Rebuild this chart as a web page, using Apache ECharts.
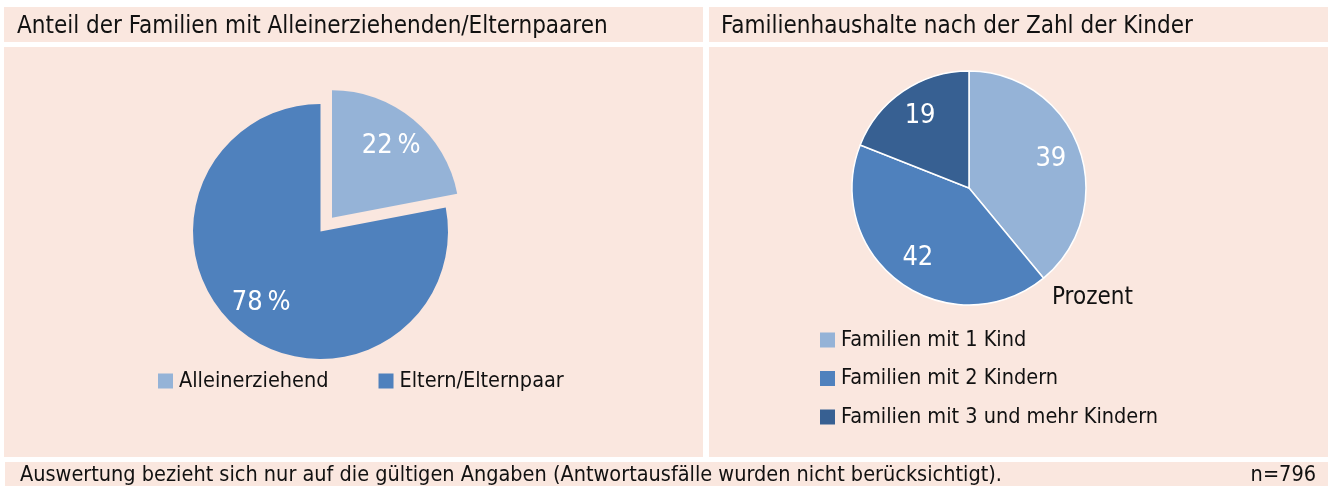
<!DOCTYPE html>
<html>
<head>
<meta charset="utf-8">
<script src="https://cdn.jsdelivr.net/npm/echarts@6/dist/echarts.min.js"></script>
<style>
html,body{margin:0;padding:0;background:#ffffff;}
#chart{width:1328px;height:486px;}
</style>
</head>
<body>
<div id="chart"></div>
<script>
// ---- data ----
const leftTitle = 'Anteil der Familien mit Alleinerziehenden/Elternpaaren';
const rightTitle = 'Familienhaushalte nach der Zahl der Kinder';
const leftCategories = ['Alleinerziehend', 'Eltern/Elternpaar'];
const leftValues = [22, 78];
const rightCategories = ['Familien mit 1 Kind', 'Familien mit 2 Kindern', 'Familien mit 3 und mehr Kindern'];
const rightValues = [39, 42, 19];
const rightUnit = 'Prozent';
const footnote = 'Auswertung bezieht sich nur auf die gültigen Angaben (Antwortausfälle wurden nicht berücksichtigt).';
const sampleSize = 'n=796';

// ---- style ----
const FONT = '"Liberation Sans Narrow", "DejaVu Sans Condensed", "Noto Sans", sans-serif';
const PINK = '#fae7df';
const leftColors = ['#95b3d7', '#4f81bd'];
const rightColors = ['#95b3d7', '#4f81bd', '#376092'];

const chart = echarts.init(document.getElementById('chart'), null, {renderer: 'canvas'});

const leftData = leftCategories.map((n, i) => ({
  name: n, value: leftValues[i], selected: i === 0,
  itemStyle: {color: leftColors[i]}
}));
const rightData = rightCategories.map((n, i) => ({
  name: n, value: rightValues[i], itemStyle: {color: rightColors[i]}
}));
const transparentCopy = (arr, withSel) => arr.map((d, i) => ({
  name: d.name, value: d.value, selected: withSel ? d.selected : false,
  itemStyle: {color: 'rgba(0,0,0,0)', borderWidth: 0}
}));

const legendBase = {
  itemWidth: 15, itemHeight: 15, icon: 'rect', selectedMode: false, padding: 0,
  itemStyle: {borderWidth: 0},
  textStyle: {fontSize: 21.5, color: '#111111', fontFamily: FONT, padding: [0, 0, 0, 1]}
};

const option = {
  backgroundColor: '#ffffff',
  animation: false,
  textStyle: {fontFamily: FONT},
  graphic: [
    // panel backgrounds
    {type: 'rect', z: -10, shape: {x: 4, y: 7, width: 699, height: 35}, style: {fill: PINK}},
    {type: 'rect', z: -10, shape: {x: 709, y: 7, width: 619, height: 35}, style: {fill: PINK}},
    {type: 'rect', z: -10, shape: {x: 4, y: 47, width: 699, height: 410}, style: {fill: PINK}},
    {type: 'rect', z: -10, shape: {x: 709, y: 47, width: 619, height: 410}, style: {fill: PINK}},
    {type: 'rect', z: -10, shape: {x: 5, y: 462, width: 1323, height: 24}, style: {fill: PINK}},
    // titles
    {type: 'text', z: 5, x: 17, y: 27, style: {text: leftTitle, font: '24px ' + FONT, fill: '#111111', verticalAlign: 'middle'}},
    {type: 'text', z: 5, x: 721, y: 27, style: {text: rightTitle, font: '24px ' + FONT, fill: '#111111', verticalAlign: 'middle'}},
    // unit label
    {type: 'text', z: 5, x: 1052, y: 298, style: {text: rightUnit, font: '24px ' + FONT, fill: '#111111', verticalAlign: 'middle'}},
    // footer
    {type: 'text', z: 5, x: 20, y: 475, style: {text: footnote, font: '21.5px ' + FONT, fill: '#111111', verticalAlign: 'middle'}},
    {type: 'text', z: 5, x: 1316, y: 475, style: {text: sampleSize, font: '21.5px ' + FONT, fill: '#111111', verticalAlign: 'middle', align: 'right'}}
  ],
  legend: [
    Object.assign({}, legendBase, {
      orient: 'horizontal', left: 158, top: 370, itemGap: 50,
      data: leftCategories.map((n, i) => ({name: n, itemStyle: {color: leftColors[i], borderWidth: 0}}))
    }),
    Object.assign({}, legendBase, {
      orient: 'vertical', left: 820, top: 329, itemGap: 16.5,
      data: rightCategories.map((n, i) => ({name: n, itemStyle: {color: rightColors[i], borderWidth: 0}}))
    })
  ],
  series: [
    {
      type: 'pie', center: [320.5, 231.5], radius: [0, 127.5], startAngle: 90, clockwise: true,
      selectedMode: 'single', selectedOffset: 18, silent: true,
      label: {show: false}, labelLine: {show: false},
      emphasis: {disabled: true},
      data: leftData
    },
    {
      type: 'pie', center: [320.5, 231.5], radius: [0, 180], startAngle: 90, clockwise: true,
      selectedMode: 'single', selectedOffset: 18, silent: true, z: 3,
      label: {show: true, position: 'inside', formatter: '{c}\u2009%', color: '#ffffff', fontSize: 27, fontFamily: FONT},
      labelLine: {show: false},
      emphasis: {disabled: true},
      data: transparentCopy(leftData, true)
    },
    {
      type: 'pie', center: [969, 188], radius: [0, 117], startAngle: 90, clockwise: true,
      silent: true,
      itemStyle: {borderColor: '#ffffff', borderWidth: 1.5},
      label: {show: false}, labelLine: {show: false},
      emphasis: {disabled: true},
      data: rightData
    },
    {
      type: 'pie', center: [969, 188], radius: [0, 168], startAngle: 90, clockwise: true,
      silent: true, z: 3,
      label: {show: true, position: 'inside', formatter: '{c}', color: '#ffffff', fontSize: 27, fontFamily: FONT},
      labelLine: {show: false},
      emphasis: {disabled: true},
      data: transparentCopy(rightData, false)
    }
  ]
};
chart.setOption(option);
</script>
</body>
</html>
